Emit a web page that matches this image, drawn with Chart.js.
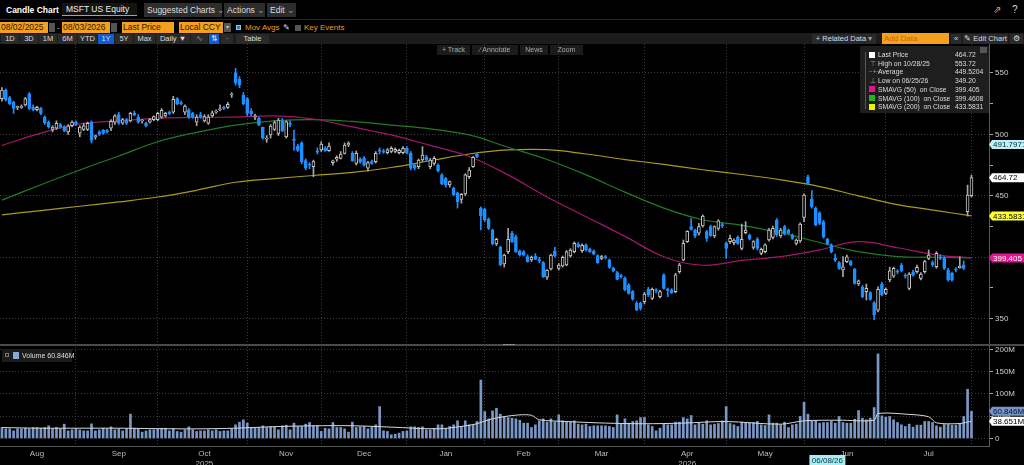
<!DOCTYPE html>
<html>
<head>
<meta charset="utf-8">
<script src="https://cdn.jsdelivr.net/npm/chart.js@4.4.1/dist/chart.umd.min.js"></script>
<style>
  body { margin: 0; width: 1024px; height: 465px; overflow: hidden; background: #000; position: relative;
         font-family: "Liberation Sans Narrow", "Liberation Sans", Arial, sans-serif; color: #ddd; }
  .a { position: absolute; white-space: nowrap; box-sizing: border-box; }
  .btn { top: 3px; height: 14px; line-height: 14px; background: #2d2d2d; color: #ddd; font-size: 8.5px; padding-left: 3px; }
  .org { top: 22px; height: 11px; line-height: 11px; background: #f5a01e; color: #2b1800; font-size: 8.5px; padding-left: 1px; }
  .ico { top: 23px; width: 6px; height: 9px; background: #555; }
  .otx { top: 22px; line-height: 11px; font-size: 8px; color: #f39a1e; }
  .tb { top: 34px; height: 10px; line-height: 10px; font-size: 7.5px; color: #ddd; background: #2a2a2a; text-align: center; }
  .r4 { top: 45px; height: 10px; line-height: 10px; font-size: 7px; color: #aaa; background: #1b1b1b; text-align: center; }
  #legend { left: 860px; top: 46px; width: 129px; height: 67px; background: rgba(32,32,32,0.95); font-size: 6.8px; color: #ddd; }
  .lr { position: absolute; left: 0; width: 129px; height: 9px; line-height: 9px; }
  .sw { position: absolute; left: 9px; top: 1.5px; width: 6px; height: 6px; }
  .gl { position: absolute; left: 9px; width: 7px; text-align: center; color: #999; font-size: 6.5px; }
  .ln { position: absolute; left: 18px; }
  .lv { position: absolute; left: 95px; }
  canvas { position: absolute; left: 0; top: 44px; }
</style>
</head>
<body>
<!-- row 1 -->
<div class="a" style="left:6px;top:3px;line-height:14px;font-size:8.5px;font-weight:bold;color:#fff">Candle Chart</div>
<div class="a" style="left:62px;top:3px;width:75px;height:13px;line-height:12px;background:#141414;border-bottom:1px solid #e8962a;font-size:8.5px;color:#eee;padding-left:4px">MSFT US Equity</div>
<div class="a btn" style="left:144px;width:78px">Suggested Charts <span style="color:#999">&#8964;</span></div>
<div class="a btn" style="left:224px;width:41px">Actions <span style="color:#999">&#8964;</span></div>
<div class="a btn" style="left:267px;width:29px">Edit <span style="color:#999">&#8964;</span></div>
<div class="a" style="left:993px;top:4px;font-size:10px;color:#bbb">&#8663;</div>
<div class="a" style="left:1012px;top:4px;font-size:10px;color:#ddd">?</div>
<div class="a" style="left:0;top:19px;width:1024px;height:1px;background:#2a2a2a"></div>
<!-- row 2 -->
<div class="a org" style="left:0;width:48px">08/02/2025</div>
<div class="a ico" style="left:49px"></div>
<div class="a otx" style="left:57px;color:#ccc">-</div>
<div class="a org" style="left:62px;width:48px">08/03/2026</div>
<div class="a ico" style="left:111px"></div>
<div class="a org" style="left:122px;width:52px">Last Price</div>
<div class="a org" style="left:179px;width:44px">Local CCY</div>
<div class="a ico" style="left:224px;width:7px;color:#ccc;font-size:6px;line-height:9px;text-align:center">&#9662;</div>
<div class="a" style="left:236px;top:25px;width:5px;height:5px;background:#1a7be0;border:1px solid #8cc"></div>
<div class="a otx" style="left:245px">Mov Avgs</div>
<div class="a otx" style="left:283px;color:#ddd">&#9998;</div>
<div class="a" style="left:295px;top:25px;width:6px;height:6px;background:#555"></div>
<div class="a otx" style="left:304px">Key Events</div>
<!-- row 3 -->
<div class="a" style="left:0;top:33px;width:1024px;height:11px;background:#1c1c1c"></div>
<div class="a tb" style="left:1px;width:18px">1D</div>
<div class="a tb" style="left:20px;width:18px">3D</div>
<div class="a tb" style="left:39px;width:18px">1M</div>
<div class="a tb" style="left:58px;width:19px">6M</div>
<div class="a tb" style="left:78px;width:19px">YTD</div>
<div class="a tb" style="left:98px;width:16px;background:#0b5ed7">1Y</div>
<div class="a tb" style="left:115px;width:18px">5Y</div>
<div class="a tb" style="left:134px;width:21px">Max</div>
<div class="a tb" style="left:156px;width:34px">Daily &#9660;</div>
<div class="a tb" style="left:191px;width:17px;color:#999">&#8767;</div>
<div class="a tb" style="left:209px;width:10px;background:#0b5ed7">&#8645;</div>
<div class="a tb" style="left:221px;width:12px">&#183;</div>
<div class="a tb" style="left:236px;width:33px">Table</div>
<div class="a tb" style="left:812px;width:64px">+ Related Data <span style="color:#999">&#9662;</span></div>
<div class="a" style="left:882px;top:33px;width:67px;height:11px;line-height:11px;background:#f5a01e;color:#c96a00;font-size:8px;padding-left:2px">Add Data</div>
<div class="a tb" style="left:951px;width:10px">&#171;</div>
<div class="a tb" style="left:963px;width:45px">&#9998; Edit Chart</div>
<div class="a tb" style="left:1010px;width:13px">&#9881;</div>

<canvas id="chart" width="1024" height="421"></canvas>

<!-- row 4 toolbar over chart -->
<div class="a r4" style="left:437px;width:33px">+ Track</div>
<div class="a r4" style="left:472px;width:46px">&#8725; Annotate</div>
<div class="a r4" style="left:520px;width:28px">News</div>
<div class="a r4" style="left:550px;width:33px">Zoom</div>

<!-- price legend -->
<div id="legend" class="a">
  <div class="a" style="left:5px;top:6px;width:1px;height:57px;background:#555"></div>
  <div class="a" style="left:120px;top:1px;width:7px;height:6px;background:#555"></div>
  <div class="lr" style="top:4px"><span class="sw" style="background:#fff"></span><span class="ln">Last Price</span><span class="lv">464.72</span></div>
  <div class="lr" style="top:12.7px"><span class="gl">&#8868;</span><span class="ln">High on 10/28/25</span><span class="lv">553.72</span></div>
  <div class="lr" style="top:21.4px"><span class="gl">&#8722;+&#8722;</span><span class="ln">Average</span><span class="lv">449.5204</span></div>
  <div class="lr" style="top:30.1px"><span class="gl">&#8869;</span><span class="ln">Low on 06/25/26</span><span class="lv">349.20</span></div>
  <div class="lr" style="top:38.8px"><span class="sw" style="background:#e0158c"></span><span class="ln">SMAVG (50)&nbsp; on Close</span><span class="lv">399.405</span></div>
  <div class="lr" style="top:47.5px"><span class="sw" style="background:#22b322"></span><span class="ln">SMAVG (100)&nbsp; on Close</span><span class="lv">399.4608</span></div>
  <div class="lr" style="top:56.2px"><span class="sw" style="background:#f0f000"></span><span class="ln">SMAVG (200)&nbsp; on Close</span><span class="lv">433.5831</span></div>
</div>

<!-- volume legend -->
<div class="a" style="left:2px;top:349px;width:70px;height:13px;background:#1c1c1c;font-size:7px;line-height:13px">
  <span class="a" style="left:3px;top:4px;width:4px;height:4px;border:1px solid #777"></span>
  <span class="a" style="left:11px;top:3px;width:6px;height:7px;background:#8aa8d8"></span>
  <span class="a" style="left:20px;top:0">Volume 60.846M</span>
</div>

<script>
// calendar: trading days per month, Aug 2025 - Jul 2026
const months = ['Aug', 'Sep', 'Oct', 'Nov', 'Dec', 'Jan', 'Feb', 'Mar', 'Apr', 'May', 'Jun', 'Jul'];
const monthDays = [20, 21, 23, 19, 22, 20, 19, 22, 21, 20, 21, 22];
const yearTicks = { Oct: '2025', Apr: '2026' };

// daily OHLC
const opens = [
  529,536,530,526,522,522,524,533,522,520, 521,514,510,504,505,508,506,502,507,510,
  501,504,504,510,498,502,503.5,503,505,510, 516,509,512,511,517,514,511,509,510,512,
  512,514,515,518,518,529,525.5,518,520,517, 510,516,511,509,515,518,520,522,522,532,
  550,545,532,529,519,514,513,505.7,496,499.5, 504,500.8,511,498,509,496,490.5,493,478.6,475.5,
  473.7,486.5,487.3,488.6,486.7,477,479.7,480.5,484.5,491.3, 484.6,476.4,479.7,480.5,472.4,477.8,477.8,487.3,486,485,
  486,486,485,485,488.6,484.6,475,473.7,479.1,481.8, 473.7,476.4,475,467,464,458.8,456,452.5,447.1,451.5,
  465.6,473.7,483.7,439.8,439,430.9,422.2,410.8,408,394.5, 404.5,419.5,416.7,405,404.5,400.5,397.8,401,398,395.6,
  383.7,390.4,405.1,391,392.9,393.7,401,404.5,410.5,405.4, 410,406.4,405,401.3,399.1,400.3,397.8,391,387.5,384.8,
  382.9,377.4,372,362.5,362.5,363.9,373.9,366.6,373.5,367.9, 385.6,374,373.4,372,388.3,397.7,412.7,425,422,419.5,
  425.4,420.8,425,417.3,423.5,426.5,411.3,412.7,411.8,416.2, 407.2,420,417.8,408,414.6,403.2,404.5,414,416.2,430.3,
  417.3,424.9,422.2,418.1,411.3,413.2,432.5,465.5,447.1,439.8, 436.2,428.9,414.5,410,399.1,395.6,389.6,396.4,396.4,390.1,
  378.2,376,372,371.2,363,357,378.2,370.6,381.5,384.7, 388.8,393.7,385.2,374.7,388.2,388.2,382.8,388.2,399.1,395.6,
  392.3,400.4,399.1,389.6,386.9,390,391.5,393.7,437.1,450.1
];
const highs = [
  538,537,531,527,523,524,530,534,524,523, 522,515,511,507,511,509,507,508,511,511,
  507,509,510,511,499.5,503,504,504,512,516, 518,513,513,518,519,516,512,510,513,515,
  518,521,518,519,531,530,527,524,521,518, 516,518,516,516,519,520,524,523,526,534,
  553.72,547,534,530,521,516.5,514,506,499,508, 511,513,513,511,511,503.5,492,494,480,477,
  479,489,494,490,493,479,482.5,486,493,494, 486,486.5,481,482,478,479,486,489,488,488.5,
  490,489,488,490,490,486,476,480,490,483, 480.5,482,476,468,465,462,457,453,452,468,
  473,482,485,441,440,432,423,415.5,409,402.5, 423.5,421,418,406,405.5,402,401,403,400,396.5,
  390,402.5,408,395,401,405.5,407,412.5,412,411, 411,407.5,406,402,401.5,401.5,398.5,392,388.5,386,
  384,378.5,373,364,363.5,371.5,375.5,375,374.5,373, 386.5,375,374.5,387,395,414,421.5,431.5,423,427.5,
  434.4,422,426,425.5,430.5,428,412.5,418.1,415,417.5, 427,429,419,413.5,416,407.5,411,423.5,425.4,431.5,
  423.5,426,423,419,415,428,451.5,466.9,454.2,441, 437,430,415.5,411,402.6,396.5,400.5,401.8,397.5,391,
  381.5,377,378.2,372,364,376,379.5,375,392,392, 390,395,386.5,387.5,389.5,393.6,387.5,397.5,405.9,397,
  404.5,402,400.5,391,388,391.5,400.4,397,458.7,466.9
];
const lows = [
  527,527,524,517,520,521,523,520,519,519, 516,508,505,502,504,505,502,500,506,507,
  498,503,503,493,496,499,500,501,503,508, 508,508,508,510,515,509,509,506,509,511,
  511,513,514,516,517,524,524,516,513,513, 507,513,510,508,514,517,519,520,521,530,
  540,538,524,515,515,512,507,496,493.5,497, 503,499,502,497,506,487,486,476,471,472,
  465.5,484,486,486,486,475,478,480,484,490, 478,475,476.5,474,470,475.5,476.5,484,484.5,484,
  485,485,484,484,484,471,471,472,478,478, 472,475,469.5,459,457,457,450,440,444,450,
  464,473,481,422.2,429,422.5,410,409.5,393,392, 403,412,404,401,401,396,396.5,398,395.5,383.5,
  382,389.5,400,389.5,392,393,400,403.5,408,404, 405,404,402,395,398,398.5,391,388,381.5,383,
  372.5,370,365,356.5,357,362,368,365.5,371,367, 374,367.9,370.5,371,387,397,412,422,416,418,
  424.5,413,417,416,422,424,399,411.3,410,410.5, 406,419,414,406.5,406,402,403.5,413,415,417,
  416,418,419,414.5,410,412,429,459,440,425.5, 426.5,415.5,410,403.5,396.4,390,384.2,395.5,393,378,
  377,367,365.2,365,349.2,355.5,368.5,369.5,380,383.5, 386.5,388,383,373.5,384.5,387,381.5,387,398,392.5,
  391,398,390,380.5,380.5,388,391,390,433.5,449
];
const closes = [
  536,528,525,521,522,522.5,529,521,520,522, 517,509,506,506,509,506,503,507,510,508,
  506,507,509,495,499,500,501,502,510.5,515, 509,512,509,517,515.5,510,511,507,512,514.5,
  517,519.5,517,517,528.5,525,525,523,514,514, 514,514,514.5,514,517.5,519,520.5,521,524.5,532.5,
  542,540,525,517,516.6,515,507.6,496.8,497,506.8, 509.5,511.7,503,510.3,508,495,487,477.8,472.4,475,
  477.8,485.5,492.1,486.7,490.5,478.5,481.3,484,491.3,492.7, 478.6,484.6,477.5,475,477,476.4,484.6,486,485.5,487.3,
  488.6,487.8,487,488.6,484.6,472.4,472.4,479.1,483.2,479.1, 479.1,480.5,470.5,459.6,458.8,461.5,450.7,445.2,451.2,467,
  471,481.3,481.8,433.6,430.3,423.5,410.8,414.6,393.7,401.8, 414.6,412.7,404.5,401.8,401.8,396.4,400,398.3,397.2,384.2,
  389.6,401.8,401,393.7,400,404.5,405.9,411.3,408.6,409.7, 405.9,404.5,402.6,395.6,400.5,399.7,391.8,389,382,384.2,
  373.4,370.6,365.8,357.1,358.4,370.1,369.3,373.9,372.5,372, 374.7,373,371.2,385.6,393.7,411.3,421,422.7,417.3,424.9,
  433.5,415.4,417.3,424.9,429.7,425.5,407.2,415.4,414,411.3, 414.6,422.2,414.8,412.7,407.2,406.4,410,422.2,423.5,418.1,
  422.2,418.9,419.5,415.4,414,427,450.6,460.1,441.1,426.2, 427.6,416.5,410.8,404.5,397.7,391,392.3,400.4,393.7,378.7,
  380.9,367.9,374.7,365.7,353,373.9,369.3,373.9,389,391, 388,389,384.7,386.3,385.5,391.8,386.3,396.4,401.8,393.7,
  403.2,399.1,391,381.5,381.5,389.6,392.8,391,450.6,464.72
];
// daily volume, millions
const volumes = [
  24.6,21.6,21.6,17,21.6,21.6,23,21.6,24.6,24.6, 23,24.6,28.4,21.6,24.6,21.6,32,17,19.4,21.6,
  19.4,17,17,32.8,17,19.4,23,21.6,26.1,19.4, 21.6,17,21.6,54.5,23,21.6,14.2,17,19.4,19.4,
  21.6,23,23,17,21.6,15.7,14.2,19.4,26.1,19.4, 15.7,17,17,19.4,17,19.4,15.7,17,17,21.6,
  30.6,36.6,41.8,34.3,23,23,24.6,28.4,24.6,26.1, 26.1,19.4,28.4,29.9,19.4,34.3,26.9,26.9,32,35.8,
  28.4,28.4,15.7,23,21.6,35.8,24.6,24.6,21.6,14.2, 36.6,24.6,26.1,26.9,21.6,26.1,30.6,71.6,17,15.7,
  8.2,9.7,11.9,15.7,17,26.1,26.1,24.6,26.1,19.4, 19.4,23,30.6,30.6,21.6,26.9,30.6,39.6,26.9,39.6,
  30.6,30.6,38.1,131.3,60.4,44,61.9,67.9,54.5,49.3, 47,45.5,44,41,34.3,34.3,24.6,30.6,39.6,44,
  36.6,44,36.6,53,39.6,38.1,36.6,39.6,32,30.6, 32,26.9,28.4,28.4,28.4,28.4,26.9,24.6,53,32,
  44,34.3,38.1,39.6,47,47,30.6,26.9,17,23, 33,30.6,30.6,36.6,36.6,47,44,51.5,30.6,34.3,
  32,39.6,30.6,32,33.6,39.6,71.6,33.6,30.6,26.9, 36.6,34.3,34.3,35.8,38.1,30.6,29.1,53,34.3,34.3,
  30.6,36.6,24.6,30.6,32,49.3,81.3,54.5,39.6,39.6, 34.3,35.8,35.8,38.8,34.3,49.3,35.8,34.3,34.3,43.3,
  62.7,45.5,41.8,45.5,69.4,190,50.7,47.8,49.3,41.8, 35.8,30.6,26.9,32.1,25.4,29.9,29.9,38.1,38.1,35.8,
  28.4,25.4,31.3,31.3,29.9,29.9,32.8,49.3,110.4,60.846
];

const maDays = [0,10,20,30,40,50,60,70,80,90,100,110,120,130,140,150,160,170,180,190,200,210,220,230,240,249];
const sma50 = [491,501,508.5,511,513,513.8,514,515,512.5,506,499.5,491,482,467,449,433,417,400.4,393.5,397.5,400.5,406,412.7,407.7,402,399.4];
const sma100 = [446.5,459,471,482.4,494,501.6,507.5,511,512,510.5,507.5,504.5,499.5,489.5,479.5,467,453,440,430.5,426,420,412,404.5,400.5,400,399.5];
const sma200 = [434.5,438,441.5,445,449,454.5,461,464,466.5,469,473,478.5,484,487.3,487.5,484,479.5,475.5,471.2,467.3,463,457.5,450,442.8,438,433.6];
const volMaDays = [0,10,20,30,40,50,60,70,80,90,100,112,118,122,125,129,133,136,138,145,155,165,175,186,200,206,215,224,225,233,238,240,246,249];
const volMa = [24.5,23,23,23,22,21.5,23,26.5,28.4,28.5,25.4,21.6,27,33,42,49,53,52,42,38,34.5,33,34.5,38,32,39.6,41,41,56,54,48.7,35,33.5,38.65];

// value tags on the right axes
const priceTagValues = [491.7971, 464.72, 433.5831, 399.405];
const volTagValues = [60.846, 38.651];
const crossDay = 212; // 06/08/26
const crossDate = '06/08/26';

const priceTagStyle = [['#bff0f8', '#0a2540'], ['#ffffff', '#000'], ['#ffff30', '#000'], ['#e3168d', '#fff']];
const volTagStyle = [['#7594c8', '#0a1020'], ['#ffffff', '#000']];

const FONT = "'Liberation Sans Narrow', 'Liberation Sans', Arial, sans-serif";
const GRID = '#3a3a3a';
const DOWN = '#1e8fff';
const PAD = 4;

// labels, month ticks and month-end grid lines
const labels = [];
const tickText = [];
const monthEnd = new Set();
let pos = 0;
months.forEach((m, k) => {
  const n = monthDays[k];
  for (let d = 0; d < n; d++) {
    labels.push(m + ' ' + (d + 1));
    tickText.push(d === Math.floor((n - 1) / 2) ? (yearTicks[m] ? [m, yearTicks[m]] : m) : '');
  }
  pos += n;
  monthEnd.add(pos - 1);
});
for (let k = 0; k < PAD; k++) { labels.push('pad ' + k); tickText.push(''); }

function sparse(days, vals) {
  const a = new Array(labels.length).fill(null);
  days.forEach((d, k) => { a[d] = vals[k]; });
  return a;
}

const up = closes.map((c, i) => c >= opens[i]);

function drawTag(ctx, x, y, text, style) {
  ctx.fillStyle = style[0];
  ctx.beginPath();
  ctx.moveTo(x, y);
  ctx.lineTo(x + 3, y - 4.5);
  ctx.lineTo(x + 35, y - 4.5);
  ctx.lineTo(x + 35, y + 4.5);
  ctx.lineTo(x + 3, y + 4.5);
  ctx.closePath();
  ctx.fill();
  ctx.fillStyle = style[1];
  ctx.font = '8px ' + FONT;
  ctx.textBaseline = 'middle';
  ctx.textAlign = 'left';
  ctx.fillText(text, x + 4, y + 0.5);
}

const overlay = {
  id: 'overlay',
  afterDraw(chart) {
    const { ctx, scales } = chart;
    const x = scales.x, y = scales.y, yv = scales.yv;
    ctx.save();
    // pane separator
    ctx.fillStyle = '#4a4a4a';
    ctx.fillRect(0, y.bottom - 1, chart.width, 2);
    ctx.fillStyle = '#888';
    ctx.fillRect(503, y.bottom - 1, 12, 1);
    priceTagValues.forEach((v, k) => {
      drawTag(ctx, y.left, y.getPixelForValue(v), String(v), priceTagStyle[k]);
    });
    volTagValues.forEach((v, k) => {
      drawTag(ctx, yv.left, yv.getPixelForValue(v), v + 'M', volTagStyle[k]);
    });
    // crosshair date
    const cx = x.getPixelForValue(crossDay);
    ctx.fillStyle = '#a6eef0';
    ctx.fillRect(cx - 18, chart.height - 10, 36, 10);
    ctx.fillStyle = '#10304a';
    ctx.font = '8px ' + FONT;
    ctx.textAlign = 'center';
    ctx.textBaseline = 'middle';
    ctx.fillText(crossDate, cx, chart.height - 4.5);
    ctx.restore();
  }
};

Chart.defaults.font.family = FONT;

new Chart(document.getElementById('chart'), {
  type: 'bar',
  data: {
    labels: labels,
    datasets: [
      {
        label: 'body',
        data: opens.map((o, i) => [o, closes[i]]),
        yAxisID: 'y',
        backgroundColor: up.map(u => u ? '#000' : DOWN),
        borderColor: up.map(u => u ? '#c8c8c8' : DOWN),
        borderWidth: 1,
        borderSkipped: false,
        barThickness: 3,
        minBarLength: 1,
        grouped: false,
        order: 1
      },
      {
        label: 'wick',
        data: lows.map((l, i) => [l, highs[i]]),
        yAxisID: 'y',
        backgroundColor: up.map(u => u ? '#a8a8a8' : DOWN),
        barThickness: 1,
        grouped: false,
        order: 2
      },
      {
        type: 'line', label: 'SMAVG (50)', data: sparse(maDays, sma50), yAxisID: 'y',
        borderColor: '#a3166b', borderWidth: 1.2, pointRadius: 0, spanGaps: true, tension: 0.4, order: 5
      },
      {
        type: 'line', label: 'SMAVG (100)', data: sparse(maDays, sma100), yAxisID: 'y',
        borderColor: '#217a26', borderWidth: 1.2, pointRadius: 0, spanGaps: true, tension: 0.4, order: 5
      },
      {
        type: 'line', label: 'SMAVG (200)', data: sparse(maDays, sma200), yAxisID: 'y',
        borderColor: '#a89a1c', borderWidth: 1.2, pointRadius: 0, spanGaps: true, tension: 0.4, order: 5
      },
      {
        label: 'Volume',
        data: volumes,
        yAxisID: 'yv',
        backgroundColor: '#7b97c6',
        barThickness: 2,
        grouped: false,
        order: 4
      },
      {
        type: 'line', label: 'Volume avg', data: sparse(volMaDays, volMa), yAxisID: 'yv',
        borderColor: '#d8d8d8', borderWidth: 1, pointRadius: 0, spanGaps: true, tension: 0.3, order: 3
      }
    ]
  },
  options: {
    responsive: false,
    animation: false,
    events: [],
    layout: { padding: 0 },
    plugins: { legend: { display: false }, tooltip: { enabled: false } },
    scales: {
      x: {
        type: 'category',
        offset: true,
        grid: {
          offset: false,
          drawTicks: false,
          color: c => monthEnd.has(c.index) ? GRID : 'transparent'
        },
        border: { display: true, color: '#555', dash: [1, 2] },
        ticks: {
          autoSkip: false, maxRotation: 0, minRotation: 0, padding: 3,
          color: '#bbb', font: { size: 8 },
          callback: (v, i) => tickText[i]
        },
        afterFit: s => { s.height = 19; s.paddingLeft = 0; s.paddingRight = 0; }
      },
      y: {
        position: 'right',
        stack: 'pane',
        stackWeight: 301,
        min: 328.6,
        max: 573.5,
        ticks: {
          stepSize: 25, includeBounds: false, padding: 2,
          color: '#ccc', font: { size: 8 },
          callback: v => v % 50 === 0 ? v : ''
        },
        grid: {
          color: c => (c.tick && c.tick.value % 50 === 0) ? GRID : 'transparent',
          tickLength: 4, tickColor: '#aaa', tickWidth: 1
        },
        border: { color: '#5a5a5a', dash: [1, 2] },
        afterFit: s => { s.width = 35; s.paddingTop = 0; s.paddingBottom = 0; }
      },
      yv: {
        position: 'right',
        stack: 'pane',
        stackWeight: 101,
        min: -17,
        max: 210,
        ticks: {
          stepSize: 50, includeBounds: false, padding: 2,
          color: '#ccc', font: { size: 8 },
          callback: v => v === 0 ? '0' : v + 'M'
        },
        grid: { color: GRID, tickLength: 4, tickColor: '#aaa', tickWidth: 1 },
        border: { color: '#5a5a5a', dash: [1, 2] },
        afterFit: s => { s.width = 35; s.paddingTop = 0; s.paddingBottom = 0; }
      }
    }
  },
  plugins: [overlay]
});
</script>
</body>
</html>
